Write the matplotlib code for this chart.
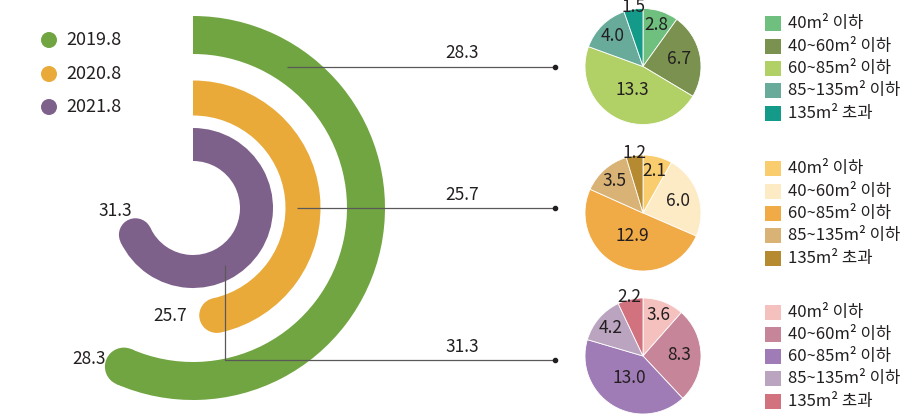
import matplotlib
matplotlib.use('Agg')
import matplotlib.pyplot as plt
from matplotlib.patches import Wedge, Circle, Rectangle
import numpy as np

plt.rcParams['font.family'] = ['Noto Sans CJK KR', 'DejaVu Sans']

# ---------------- data ----------------
years = ['2019.8', '2020.8', '2021.8']
totals = [28.3, 25.7, 31.3]
size_labels = ['40m² 이하', '40~60m² 이하', '60~85m² 이하', '85~135m² 이하', '135m² 초과']
shares_2019 = [2.8, 6.7, 13.3, 4.0, 1.5]
shares_2020 = [2.1, 6.0, 12.9, 3.5, 1.2]
shares_2021 = [3.6, 8.3, 13.0, 4.2, 2.2]
shares = [shares_2019, shares_2020, shares_2021]

# ---------------- styles ----------------
ring_colors = ['#70a542', '#e9aa3a', '#7e618b']
pie_colors = [
    ['#6fbf7f', '#7a9150', '#b1d066', '#68ab9b', '#149a89'],
    ['#f9cd6e', '#fdebc6', '#f0aa46', '#d9b275', '#b58a30'],
    ['#f5c1bf', '#c78599', '#a07cb6', '#baa4c0', '#d3727f'],
]
text_color = '#231f20'
line_color = '#5a5858'

W, H = 900, 415
fig = plt.figure(figsize=(W / 100, H / 100), dpi=100)
ax = fig.add_axes([0, 0, 1, 1])

def Y(py):
    return H - py

# angular scale of the radial bars (value -> clockwise degrees from top)
scale_lo, scale_hi = 13.6, 39.6
def ang(v):
    return (v - scale_lo) / (scale_hi - scale_lo) * 360.0

# ---------------- radial bars ----------------
cx, cy = 193, Y(208)
r_out = [192, 127.5, 80]
r_w = [38, 35, 33]
for i, v in enumerate(totals):
    a = ang(v)
    ax.add_patch(Wedge((cx, cy), r_out[i], 90 - a, 90, width=r_w[i],
                       facecolor=ring_colors[i], edgecolor='none', zorder=2))
    rm = r_out[i] - r_w[i] / 2
    t = np.deg2rad(90 - a)
    ax.add_patch(Circle((cx + rm * np.cos(t), cy + rm * np.sin(t)), r_w[i] / 2,
                        facecolor=ring_colors[i], edgecolor='none', zorder=2))

val_pos = [(106, 359), (187, 316), (132, 211)]
for i, v in enumerate(totals):
    ax.text(val_pos[i][0], Y(val_pos[i][1]), f'{v:.1f}', ha='right', va='center',
            fontsize=12.5, color=text_color, zorder=5)

# left legend
leg_y = [40, 74, 107]
for i, yr in enumerate(years):
    ax.add_patch(Circle((49, Y(leg_y[i])), 8, facecolor=ring_colors[i],
                        edgecolor='none', zorder=3))
    ax.text(66, Y(leg_y[i]), yr, ha='left', va='center', fontsize=13,
            color=text_color)

# ---------------- pies ----------------
pie_cy = [66.5, 213, 356]
pie_cx = 643
pie_r = 58
label_frac = [0.75, 0.63, 0.44, 0.74, 1.04]
for i in range(3):
    wedges, _ = ax.pie(shares[i], colors=pie_colors[i], startangle=90,
                       counterclock=False, center=(pie_cx, Y(pie_cy[i])),
                       radius=pie_r, frame=True,
                       wedgeprops=dict(edgecolor='white', linewidth=0.6))
    for j, w in enumerate(wedges):
        m = np.deg2rad((w.theta1 + w.theta2) / 2)
        d = label_frac[j] * pie_r
        ax.text(pie_cx + d * np.cos(m), Y(pie_cy[i]) + d * np.sin(m),
                f'{shares[i][j]:.1f}', ha='center', va='center',
                fontsize=12.5, color=text_color, zorder=6)

# right legends
leg_start = [24, 169, 312]
leg_step = 22.3
for i in range(3):
    for j, lab in enumerate(size_labels):
        yy = Y(leg_start[i] + j * leg_step)
        ax.add_patch(Rectangle((765, yy - 7.5), 16, 15, facecolor=pie_colors[i][j],
                               edgecolor='none'))
        ax.text(788, yy, lab, ha='left', va='center', fontsize=12,
                color=text_color)

# ---------------- leader lines ----------------
lines = [
    [(287, 67), (555, 67)],
    [(297, 208), (555, 208)],
    [(225, 265), (225, 360), (555, 360)],
]
line_lab_y = [53, 195, 347]
for i, pts in enumerate(lines):
    xs = [p[0] for p in pts]
    ys = [Y(p[1]) for p in pts]
    ax.plot(xs, ys, color=line_color, lw=0.9, zorder=4, solid_capstyle='butt')
    ax.plot([xs[-1]], [ys[-1]], 'o', color='#231f20', markersize=3, zorder=5)
    ax.text(462, Y(line_lab_y[i]), f'{totals[i]:.1f}', ha='center', va='center',
            fontsize=12.5, color=text_color, zorder=5)

ax.set_xlim(0, W)
ax.set_ylim(0, H)
ax.set_aspect('auto')
ax.axis('off')

fig.savefig('out.png', dpi=100, facecolor='white')
